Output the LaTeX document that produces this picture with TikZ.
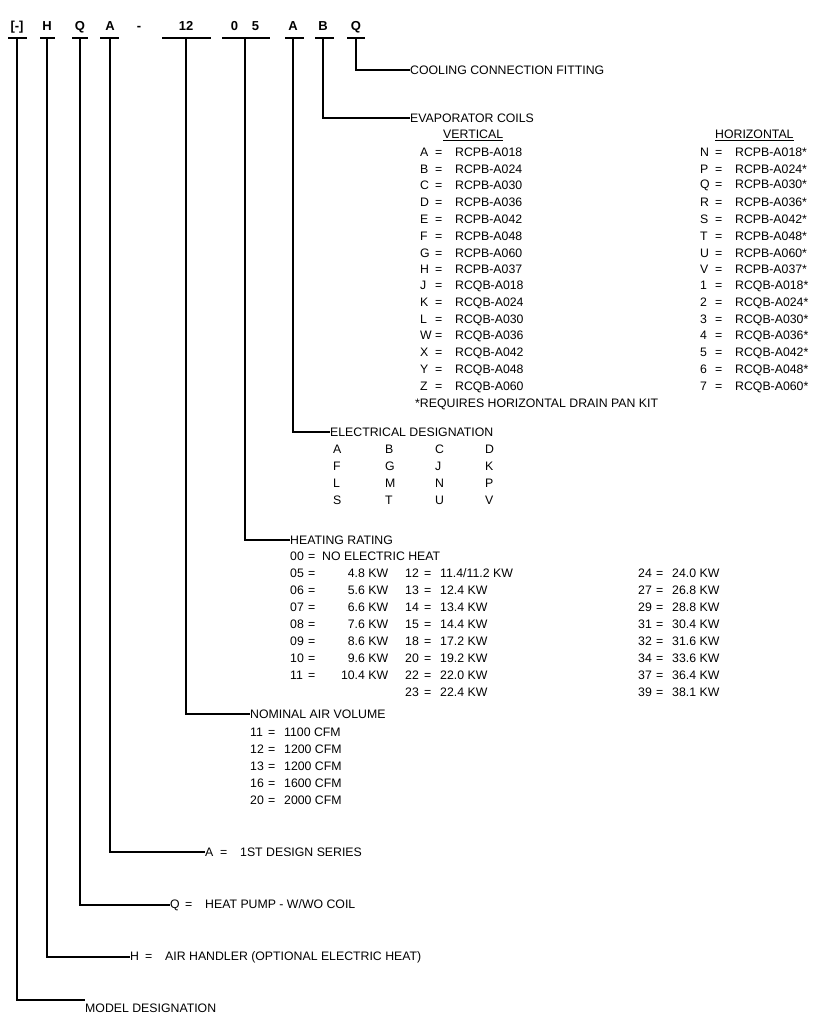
\documentclass[tikz,border=0pt]{standalone}
\usepackage{fontspec}
\setmainfont{Liberation Sans}
\newcommand{\eq}[3]{\makebox[#1pt][l]{#2}\makebox[20pt][l]{=}#3}
\newcommand{\hr}[2]{\makebox[18pt][l]{#1}\makebox[14pt][l]{=}\makebox[66pt][r]{#2}}
\begin{document}
\begin{tikzpicture}[x=1pt,y=-1pt,
  lab/.style={anchor=west,inner sep=0pt,font=\fontsize{12.3}{13}\selectfont},
  hd/.style={anchor=base,inner sep=0pt,font=\fontsize{13}{13}\selectfont\bfseries},
  ln/.style={line width=1.1pt}]
\useasboundingbox (0,0) rectangle (832,1024);
% header letters
\foreach \t/\x/\n/\a/\b in {{[-]}/17/p0/8/27, H/47/p1/40/55, Q/80/p2/72/88, A/110/p3/100/119, 12/186/p4/162/211, {0\hspace{14pt}5}/245/p5/222/270, A/293/p6/285/304, B/323/p7/315/334, Q/356/p8/347/365}{
  \node[hd] (\n) at (\x,31) {\t};
  \coordinate (\n b) at (\x,38);
  \draw[ln] (\a,38) -- (\b,38);
}
\node[hd] (dash) at (139,31) {-};
% labels
\node[lab] (l8) at (410,70) {COOLING CONNECTION FITTING};
\node[lab] (l7) at (410,118) {EVAPORATOR COILS};
\node[lab] (l6) at (330,432) {ELECTRICAL DESIGNATION};
\node[lab] (l5) at (290,540) {HEATING RATING};
\node[lab] (l4) at (250,714) {NOMINAL AIR VOLUME};
\node[lab] (l3) at (205,852) {\eq{15}{A}{1ST DESIGN SERIES}};
\node[lab] (l2) at (170,905) {\eq{15}{Q}{HEAT PUMP - W/WO COIL}};
\node[lab] (l1) at (130,957) {\eq{15}{H}{AIR HANDLER (OPTIONAL ELECTRIC HEAT)}};
\node[lab] (l0) at (85,1008) {MODEL DESIGNATION};
% connectors
\draw[ln] (p8b) |- (l8.west);
\draw[ln] (p7b) |- (l7.west);
\draw[ln] (p6b) |- (l6.west);
\draw[ln] (p5b) |- (l5.west);
\draw[ln] (p4b) |- (l4.west);
\draw[ln] (p3b) |- (l3.west);
\draw[ln] (p2b) |- (l2.west);
\draw[ln] (p1b) |- (l1.west);
\draw[ln] (p0b) |- ([yshift=8pt]l0.west);
% evaporator table
\node[lab] (vh) at (443,135) {\underline{VERTICAL}};
\node[lab] (hh) at (715,135) {\underline{HORIZONTAL}};
\foreach \l/\c [count=\i] in {A/RCPB-A018,B/RCPB-A024,C/RCPB-A030,D/RCPB-A036,E/RCPB-A042,F/RCPB-A048,G/RCPB-A060,H/RCPB-A037,J/RCQB-A018,K/RCQB-A024,L/RCQB-A030,W/RCQB-A036,X/RCQB-A042,Y/RCQB-A048,Z/RCQB-A060}
  \node[lab] (v\i) at (420,{152+16.8*(\i-1)}) {\eq{15}{\l}{\c}};
\foreach \l/\c [count=\i] in {N/RCPB-A018,P/RCPB-A024,Q/RCPB-A030,R/RCPB-A036,S/RCPB-A042,T/RCPB-A048,U/RCPB-A060,V/RCPB-A037,1/RCQB-A018,2/RCQB-A024,3/RCQB-A030,4/RCQB-A036,5/RCQB-A042,6/RCQB-A048,7/RCQB-A060}
  \node[lab] (h\i) at (700,{152+16.8*(\i-1)}) {\eq{15}{\l}{\c*}};
\node[lab] (fn) at (415,404) {*REQUIRES HORIZONTAL DRAIN PAN KIT};
% electrical
\foreach \r/\ya/\yb/\yc/\yd [count=\i] in {449/A/B/C/D,466/F/G/J/K,483/L/M/N/P,500/S/T/U/V}{
  \node[lab] (e\i a) at (333,\r) {\ya};
  \node[lab] (e\i b) at (385,\r) {\yb};
  \node[lab] (e\i c) at (435,\r) {\yc};
  \node[lab] (e\i d) at (485,\r) {\yd};
}
% heating
\node[lab] (h00) at (290,556) {\makebox[18pt][l]{00}\makebox[14pt][l]{=}NO ELECTRIC HEAT};
\foreach \a/\b [count=\i] in {05/4.8 KW,06/5.6 KW,07/6.6 KW,08/7.6 KW,09/8.6 KW,10/9.6 KW,11/10.4 KW}
  \node[lab] (ha\i) at (290,{573+17*(\i-1)}) {\hr{\a}{\b}};
\foreach \a/\b [count=\i] in {12/{11.4/11.2 KW},13/12.4 KW,14/13.4 KW,15/14.4 KW,18/17.2 KW,20/19.2 KW,22/22.0 KW,23/22.4 KW}
  \node[lab] (hb\i) at (405,{573+17*(\i-1)}) {\makebox[19pt][l]{\a}\makebox[16pt][l]{=}\b};
\foreach \a/\b [count=\i] in {24/24.0 KW,27/26.8 KW,29/28.8 KW,31/30.4 KW,32/31.6 KW,34/33.6 KW,37/36.4 KW,39/38.1 KW}
  \node[lab] (hc\i) at (638,{573+17*(\i-1)}) {\makebox[18pt][l]{\a}\makebox[16pt][l]{=}\b};
% air volume
\foreach \a/\b [count=\i] in {11/1100,12/1200,13/1200,16/1600,20/2000}
  \node[lab] (a\i) at (250,{732+17*(\i-1)}) {\makebox[18pt][l]{\a}\makebox[16pt][l]{=}\b\ CFM};
\end{tikzpicture}
\end{document}
